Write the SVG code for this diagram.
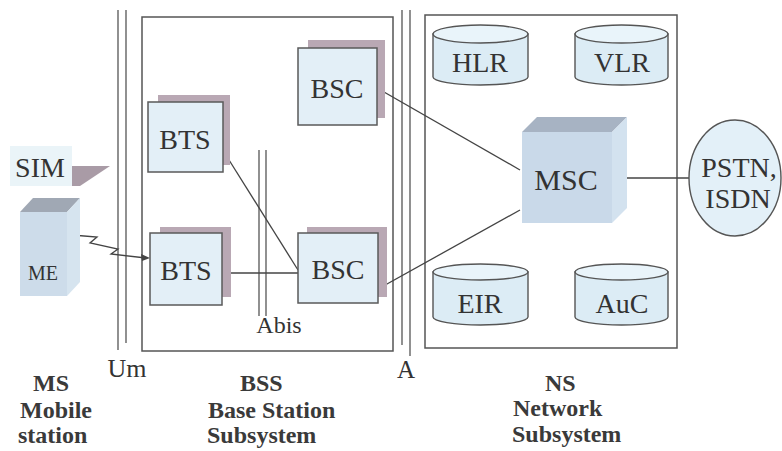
<svg xmlns="http://www.w3.org/2000/svg" width="782" height="451" viewBox="0 0 782 451">
<style>
.t{font-family:"Liberation Serif","Times New Roman",serif;fill:#333;}
.lbl{font-size:28px;text-anchor:middle;}
.bold{font-weight:bold;font-size:24px;fill:#3a3a3a;}
.frame{fill:none;stroke:#555;stroke-width:1.5;}
.rule{stroke:#555;stroke-width:1.3;fill:none;}
.front{fill:#e3eff7;stroke:#5a5a5a;stroke-width:1.5;}
.shadow{fill:#b9a8b4;}
.cyl{fill:#dcecf5;stroke:#555;stroke-width:1.4;}
.cyltop{fill:#e9f4fa;stroke:#555;stroke-width:1.4;}
.conn{stroke:#444;stroke-width:1.3;fill:none;}
</style>
<rect width="782" height="451" fill="#ffffff"/>

<g id="subsystem-frames">
  <rect class="frame" x="142" y="17" width="251" height="334"/>
  <rect class="frame" x="425" y="15" width="252" height="333"/>
</g>

<g id="interfaces">
  <line class="rule" x1="118" y1="10" x2="118" y2="350"/>
  <line class="rule" x1="126" y1="10" x2="126" y2="343"/>
  <line class="rule" x1="402" y1="10" x2="402" y2="345"/>
  <line class="rule" x1="410" y1="10" x2="410" y2="356"/>
  <line class="rule" x1="259" y1="150" x2="259" y2="316"/>
  <line class="rule" x1="266" y1="150" x2="266" y2="316"/>
  <text class="t" x="127" y="377" font-size="26" text-anchor="middle">Um</text>
  <text class="t" x="406" y="378" font-size="25" text-anchor="middle">A</text>
  <text class="t" x="279" y="333" font-size="24" text-anchor="middle">Abis</text>
</g>

<g id="connectors">
  <line class="conn" x1="224" y1="152" x2="298" y2="270"/>
  <line class="conn" x1="222" y1="273" x2="298" y2="273"/>
  <line class="conn" x1="377" y1="88" x2="520" y2="170"/>
  <line class="conn" x1="378" y1="289" x2="520" y2="210"/>
  <line class="conn" x1="612" y1="178" x2="689" y2="178"/>
  <path class="conn" d="M72,235 L97,237 L90,243 L118,249 L111,254 L146,258"/>
  <polygon points="150,258 141,254 142,261" fill="#444"/>
</g>

<g id="sim">
  <rect x="10" y="146" width="62" height="40" fill="#eaf4f8"/>
  <text class="t" x="40" y="177" font-size="28" text-anchor="middle">SIM</text>
  <polygon points="72,166 110,166 80,186 72,186" fill="#a99ba6"/>
</g>

<g id="me">
  <polygon points="20,212 33,198 80,198 67,212" fill="#a0a8b4"/>
  <polygon points="67,212 80,198 80,282 67,296" fill="#d6e4ef"/>
  <rect x="20" y="212" width="47" height="84" fill="#cddcea"/>
  <text class="t" x="43" y="280" font-size="20" text-anchor="middle">ME</text>
</g>

<g id="bts-1">
  <rect class="shadow" x="158" y="95" width="72" height="70"/>
  <rect class="front" x="148" y="102" width="75" height="70"/>
  <text class="t lbl" x="185" y="149">BTS</text>
</g>

<g id="bts-2">
  <rect class="shadow" x="160" y="227" width="71" height="70"/>
  <rect class="front" x="150" y="233" width="72" height="72"/>
  <text class="t lbl" x="186" y="280">BTS</text>
</g>

<g id="bsc-1">
  <rect class="shadow" x="308" y="40" width="77" height="78"/>
  <rect class="front" x="298" y="48" width="79" height="77"/>
  <text class="t lbl" x="337" y="98">BSC</text>
</g>

<g id="bsc-2">
  <rect class="shadow" x="307" y="227" width="80" height="70"/>
  <rect class="front" x="298" y="233" width="80" height="70"/>
  <text class="t lbl" x="338" y="279">BSC</text>
</g>

<g id="msc">
  <polygon points="522,132 537,117 627,117 612,132" fill="#a7b3c3"/>
  <polygon points="612,132 627,117 627,208 612,223" fill="#d3e2ef"/>
  <rect x="522" y="132" width="90" height="91" fill="#c9d9e9"/>
  <text class="t" x="566" y="190" font-size="30" text-anchor="middle">MSC</text>
</g>

<g id="hlr">
  <path class="cyl" d="M433,34 L433,77 A47.5,8 0 0 0 528,77 L528,34 Z"/>
  <ellipse class="cyltop" cx="480.5" cy="34" rx="47.5" ry="9"/>
  <text class="t lbl" x="480" y="72">HLR</text>
</g>

<g id="vlr">
  <path class="cyl" d="M575,34 L575,77 A46.5,8 0 0 0 668,77 L668,34 Z"/>
  <ellipse class="cyltop" cx="621.5" cy="34" rx="46.5" ry="9"/>
  <text class="t lbl" x="622" y="72">VLR</text>
</g>

<g id="eir">
  <path class="cyl" d="M433,272 L433,317 A47.5,8 0 0 0 528,317 L528,272 Z"/>
  <ellipse class="cyltop" cx="480.5" cy="272" rx="47.5" ry="8"/>
  <text class="t lbl" x="480" y="313">EIR</text>
</g>

<g id="auc">
  <path class="cyl" d="M575,272 L575,317 A46.5,8 0 0 0 668,317 L668,272 Z"/>
  <ellipse class="cyltop" cx="621.5" cy="272" rx="46.5" ry="8"/>
  <text class="t lbl" x="622" y="313">AuC</text>
</g>

<g id="pstn">
  <ellipse cx="735" cy="178" rx="46" ry="58" fill="#e3f0f8" stroke="#555" stroke-width="1.4"/>
  <text class="t lbl" x="739" y="177">PSTN,</text>
  <text class="t lbl" x="738" y="208">ISDN</text>
</g>

<g id="captions">
  <text class="t bold" x="33" y="391">MS</text>
  <text class="t bold" x="20" y="418">Mobile</text>
  <text class="t bold" x="18" y="443">station</text>
  <text class="t bold" x="240" y="391">BSS</text>
  <text class="t bold" x="208" y="418">Base Station</text>
  <text class="t bold" x="207" y="443">Subsystem</text>
  <text class="t bold" x="545" y="391">NS</text>
  <text class="t bold" x="513" y="416">Network</text>
  <text class="t bold" x="512" y="442">Subsystem</text>
</g>
</svg>
